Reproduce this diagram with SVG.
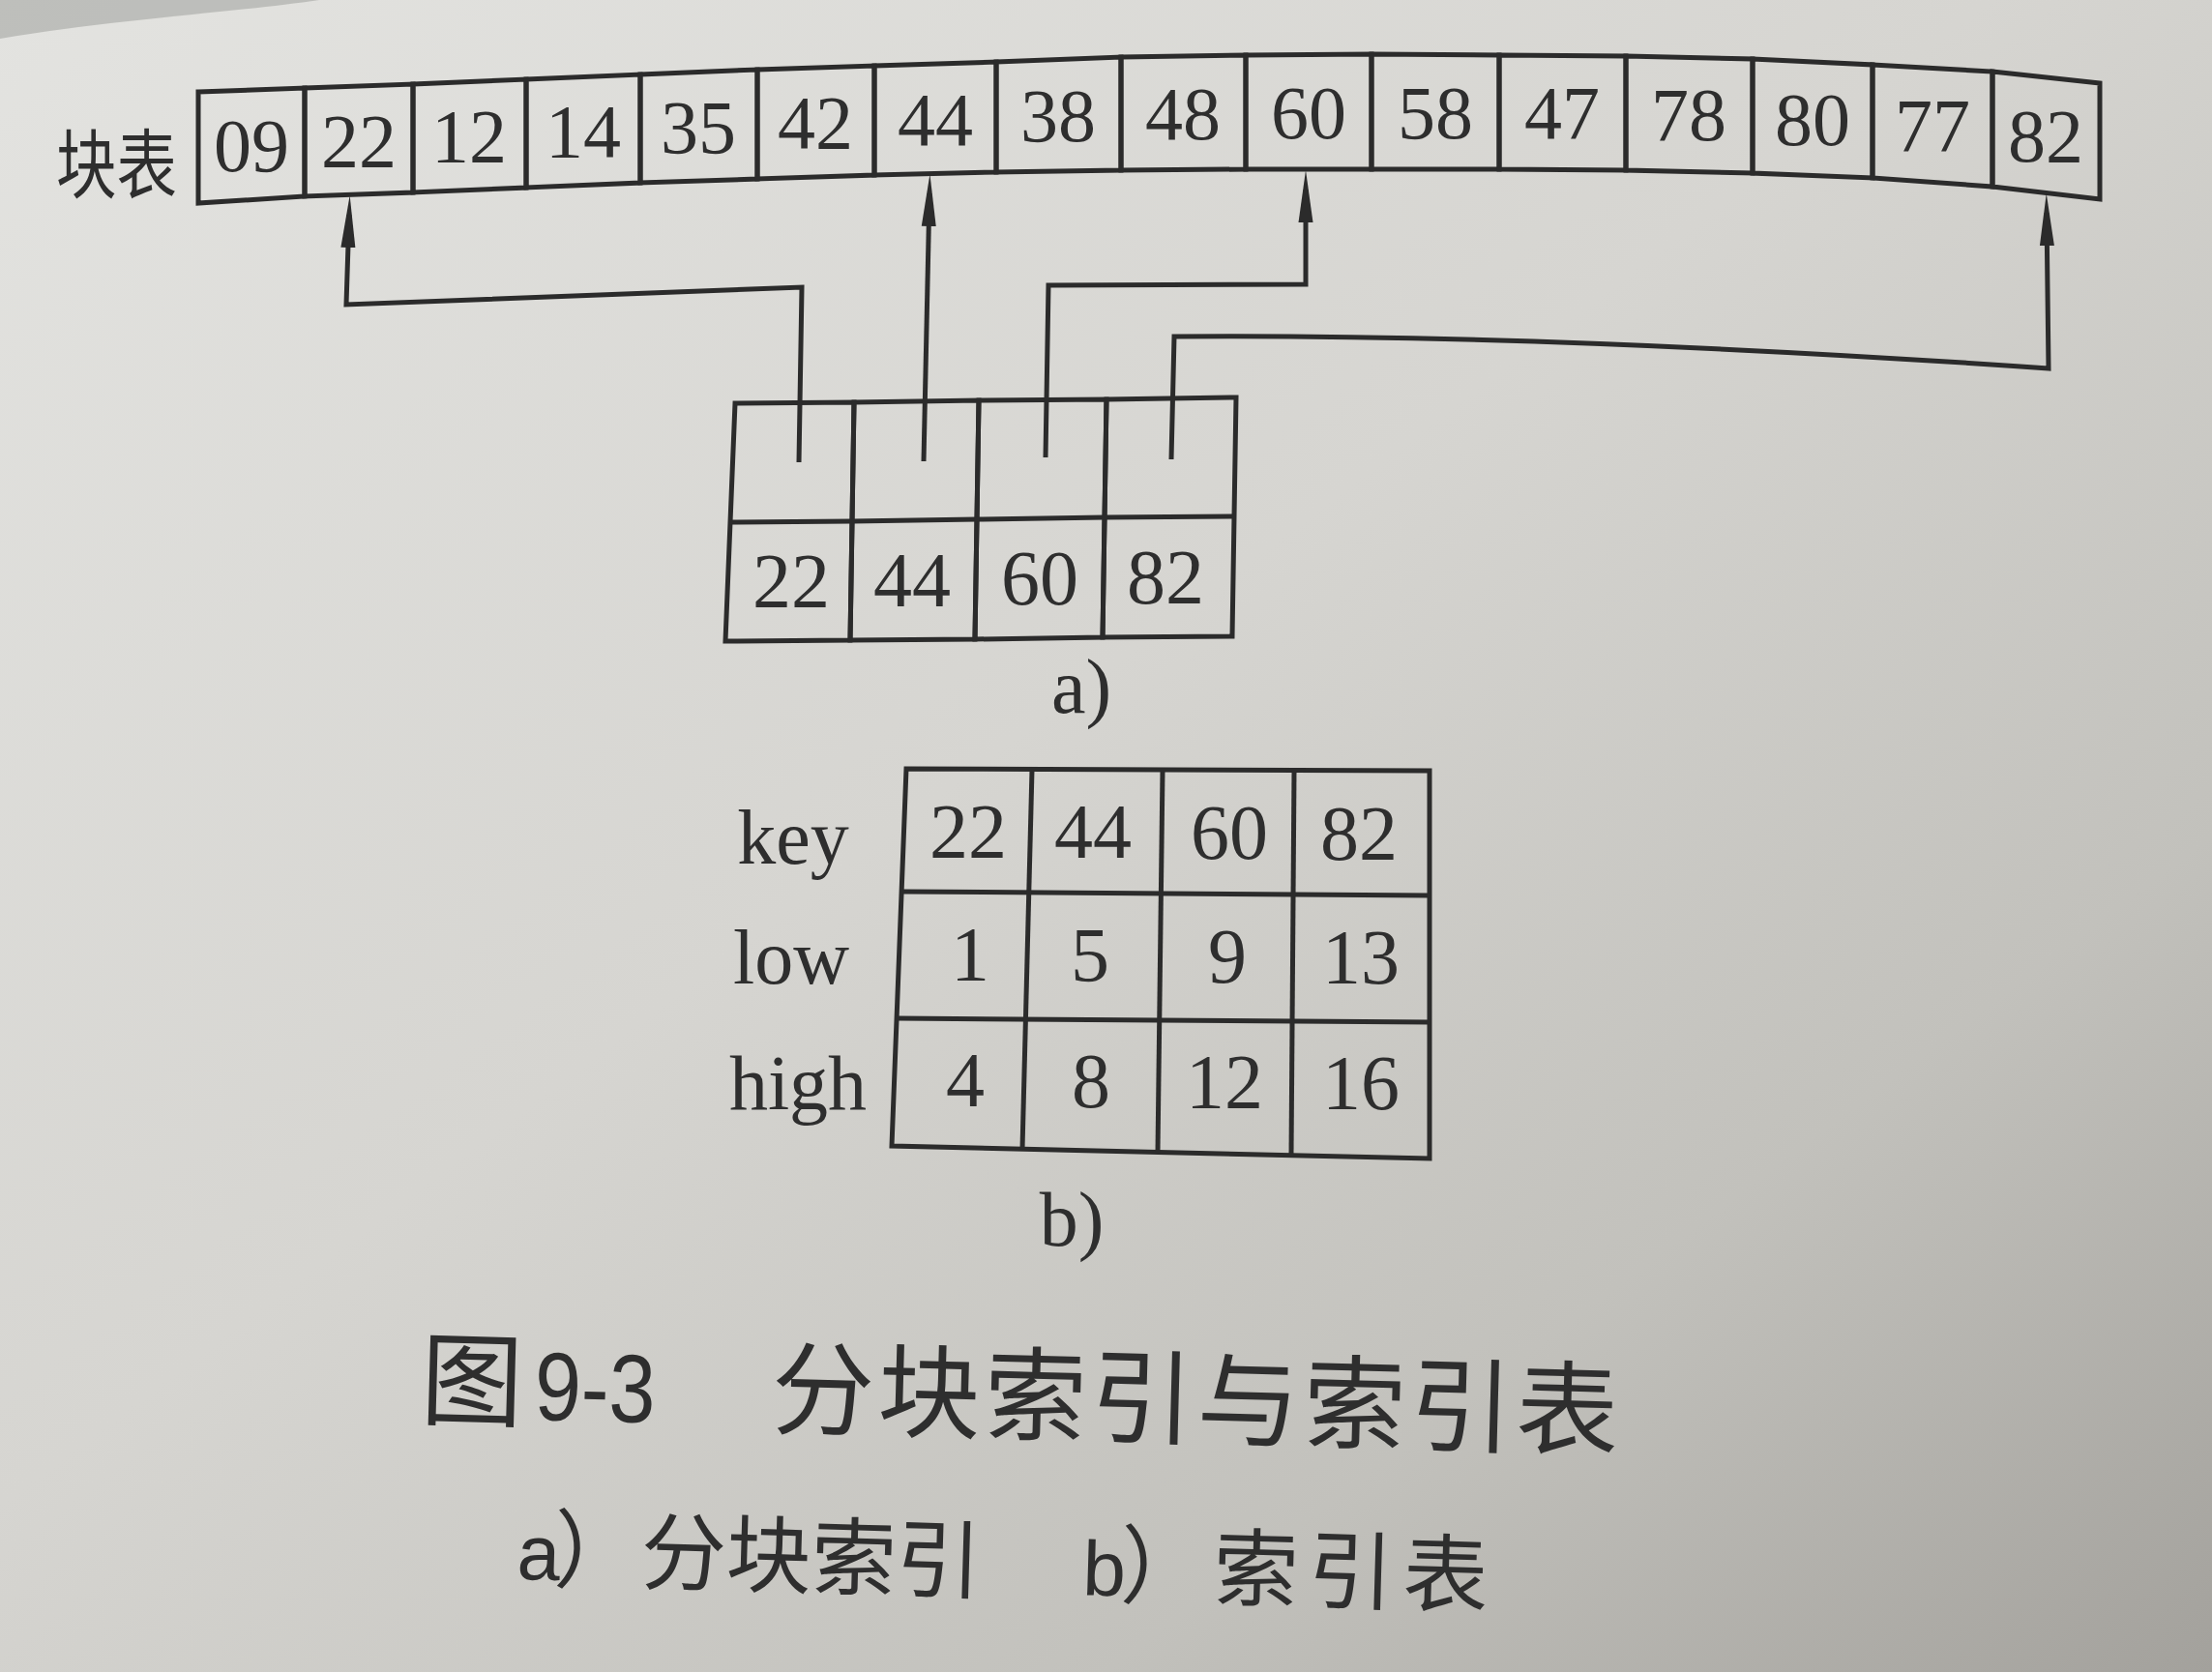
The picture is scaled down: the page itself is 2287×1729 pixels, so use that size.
<svg xmlns="http://www.w3.org/2000/svg" width="2287" height="1729" viewBox="0 0 2287 1729">
<defs>
<linearGradient id="paper" x1="0" y1="0" x2="1" y2="1">
<stop offset="0" stop-color="#e3e3e0"/>
<stop offset="0.45" stop-color="#d6d5d1"/>
<stop offset="0.75" stop-color="#c2c1bc"/>
<stop offset="1" stop-color="#a3a19c"/>
</linearGradient>
<marker id="arr" viewBox="0 0 54 16" refX="34" refY="8" markerWidth="54" markerHeight="16" orient="auto" markerUnits="userSpaceOnUse">
<path d="M0,0.5 L54,8 L0,15.5 Z" fill="#2b2b2b"/>
</marker>
<style>
.cell{fill:none;stroke:#2b2b2b;stroke-width:5;stroke-linejoin:miter}
.num{font-family:"Liberation Serif","Times New Roman",serif;font-size:78px;fill:#2e2e2e;text-anchor:middle}
.big{font-family:"Liberation Serif","Times New Roman",serif;font-size:80px;fill:#2e2e2e;text-anchor:middle}
.conn{fill:none;stroke:#2b2b2b;stroke-width:5;stroke-linejoin:miter}
.cjk{font-family:"Noto Sans CJK SC","Noto Sans",sans-serif;fill:#2e2e2e}
</style>
</defs>
<rect x="0" y="0" width="2287" height="1729" fill="url(#paper)"/>
<path d="M0,0 L330,0 C250,12 120,20 0,40 Z" fill="#b4b5b2" opacity="0.8"/>

<g id="block-label">
<text class="cjk" x="58" y="199" font-size="78" textLength="125" lengthAdjust="spacingAndGlyphs">块表</text>
</g>

<g id="block-table">
<g id="b0"><polygon class="cell" points="205,95 315,91 315,203 205,210"/><text class="num" x="260" y="177">09</text></g>
<g id="b1"><polygon class="cell" points="315,91 427,87 427,199 315,203"/><text class="num" x="371" y="172">22</text></g>
<g id="b2"><polygon class="cell" points="427,87 544,82 544,194 427,199"/><text class="num" x="485" y="167">12</text></g>
<g id="b3"><polygon class="cell" points="544,82 662,77 662,189 544,194"/><text class="num" x="603" y="162">14</text></g>
<g id="b4"><polygon class="cell" points="662,77 783,72 783,185 662,189"/><text class="num" x="722" y="158">35</text></g>
<g id="b5"><polygon class="cell" points="783,72 904,68 904,181 783,185"/><text class="num" x="843" y="153">42</text></g>
<g id="b6"><polygon class="cell" points="904,68 1030,64 1030,178 904,181"/><text class="num" x="967" y="150">44</text></g>
<g id="b7"><polygon class="cell" points="1030,64 1159,59 1159,176 1030,178"/><text class="num" x="1094" y="146">38</text></g>
<g id="b8"><polygon class="cell" points="1159,59 1288,57 1288,175 1159,176"/><text class="num" x="1223" y="144">48</text></g>
<g id="b9"><polygon class="cell" points="1288,57 1418,56 1418,175 1288,175"/><text class="num" x="1353" y="143">60</text></g>
<g id="b10"><polygon class="cell" points="1418,56 1550,57 1550,175 1418,175"/><text class="num" x="1484" y="143">58</text></g>
<g id="b11"><polygon class="cell" points="1550,57 1681,58 1681,176 1550,175"/><text class="num" x="1615" y="143">47</text></g>
<g id="b12"><polygon class="cell" points="1681,58 1812,61 1812,179 1681,176"/><text class="num" x="1746" y="145">78</text></g>
<g id="b13"><polygon class="cell" points="1812,61 1936,67 1936,184 1812,179"/><text class="num" x="1874" y="150">80</text></g>
<g id="b14"><polygon class="cell" points="1936,67 2060,74 2060,193 1936,184"/><text class="num" x="1998" y="156">77</text></g>
<g id="b15"><polygon class="cell" points="2060,74 2171,86 2171,206 2060,193"/><text class="num" x="2115" y="167">82</text></g>
</g>

<g id="index-a">
<g id="a0"><polygon class="cell" points="760,417 883,416 879,662 750,663"/><line class="cell" x1="755" y1="540" x2="881" y2="539"/><text class="big" x="818" y="628">22</text></g>
<g id="a1"><polygon class="cell" points="883,416 1012,414 1008,661 879,662"/><line class="cell" x1="881" y1="539" x2="1010" y2="537"/><text class="big" x="943" y="627">44</text></g>
<g id="a2"><polygon class="cell" points="1012,414 1144,413 1140,659 1008,661"/><line class="cell" x1="1010" y1="537" x2="1142" y2="535"/><text class="big" x="1075" y="625">60</text></g>
<g id="a3"><polygon class="cell" points="1144,413 1278,411 1274,658 1140,659"/><line class="cell" x1="1142" y1="535" x2="1276" y2="534"/><text class="big" x="1205" y="624">82</text></g>
</g>

<g id="connectors">
<path class="conn" d="M826,478 L829,297 L358,315 L361,222" marker-end="url(#arr)"/>
<path class="conn" d="M955,477 L961,200" marker-end="url(#arr)"/>
<path class="conn" d="M1081,473 L1084,295 L1350,294 L1350,196" marker-end="url(#arr)"/>
<path class="conn" d="M1211,475 L1214,348 Q1600,345 2118,381 L2116,220" marker-end="url(#arr)"/>
</g>

<g id="label-a"><text class="big" x="1118" y="737">a)</text></g>

<g id="index-b">
<g id="b-labels">
<text class="big" x="820" y="893">key</text>
<text class="big" x="818" y="1017">low</text>
<text class="big" x="825" y="1147">high</text>
</g>
<g id="b-grid">
<polygon class="cell" points="937,795 1478,797 1478,1198 922,1185"/>
<line class="cell" x1="933" y1="922" x2="1478" y2="926"/>
<line class="cell" x1="927" y1="1053" x2="1478" y2="1057"/>
<line class="cell" x1="1067" y1="796" x2="1057" y2="1188"/>
<line class="cell" x1="1202" y1="797" x2="1197" y2="1191"/>
<line class="cell" x1="1338" y1="797" x2="1335" y2="1194"/>
</g>
<g id="b-key">
<text class="big" x="1001" y="887">22</text>
<text class="big" x="1130" y="887">44</text>
<text class="big" x="1271" y="888">60</text>
<text class="big" x="1405" y="889">82</text>
</g>
<g id="b-low">
<text class="big" x="1003" y="1014">1</text>
<text class="big" x="1127" y="1015">5</text>
<text class="big" x="1269" y="1016">9</text>
<text class="big" x="1407" y="1017">13</text>
</g>
<g id="b-high">
<text class="big" x="998" y="1144">4</text>
<text class="big" x="1128" y="1145">8</text>
<text class="big" x="1266" y="1146">12</text>
<text class="big" x="1407" y="1147">16</text>
</g>
</g>

<g id="label-b"><text class="big" x="1108" y="1288">b)</text></g>

<g id="caption" transform="rotate(1.5 438 1465)">
<text class="cjk" y="1465" font-size="106"><tspan x="434">图</tspan><tspan x="552" font-family="Liberation Sans, sans-serif" font-size="100" textLength="125" lengthAdjust="spacingAndGlyphs">9-3</tspan><tspan x="797" letter-spacing="4">分块索引与索引表</tspan></text>
</g>

<g id="subcaption" transform="rotate(1.6 536 1633)">
<text class="cjk" y="1633" font-size="88"><tspan x="534" font-family="Liberation Sans, sans-serif" font-size="80">a</tspan><tspan x="572">）</tspan><tspan x="662">分块索引</tspan><tspan x="1119" font-family="Liberation Sans, sans-serif" font-size="80">b</tspan><tspan x="1158">）</tspan><tspan x="1254" letter-spacing="10">索引表</tspan></text>
</g>
</svg>
